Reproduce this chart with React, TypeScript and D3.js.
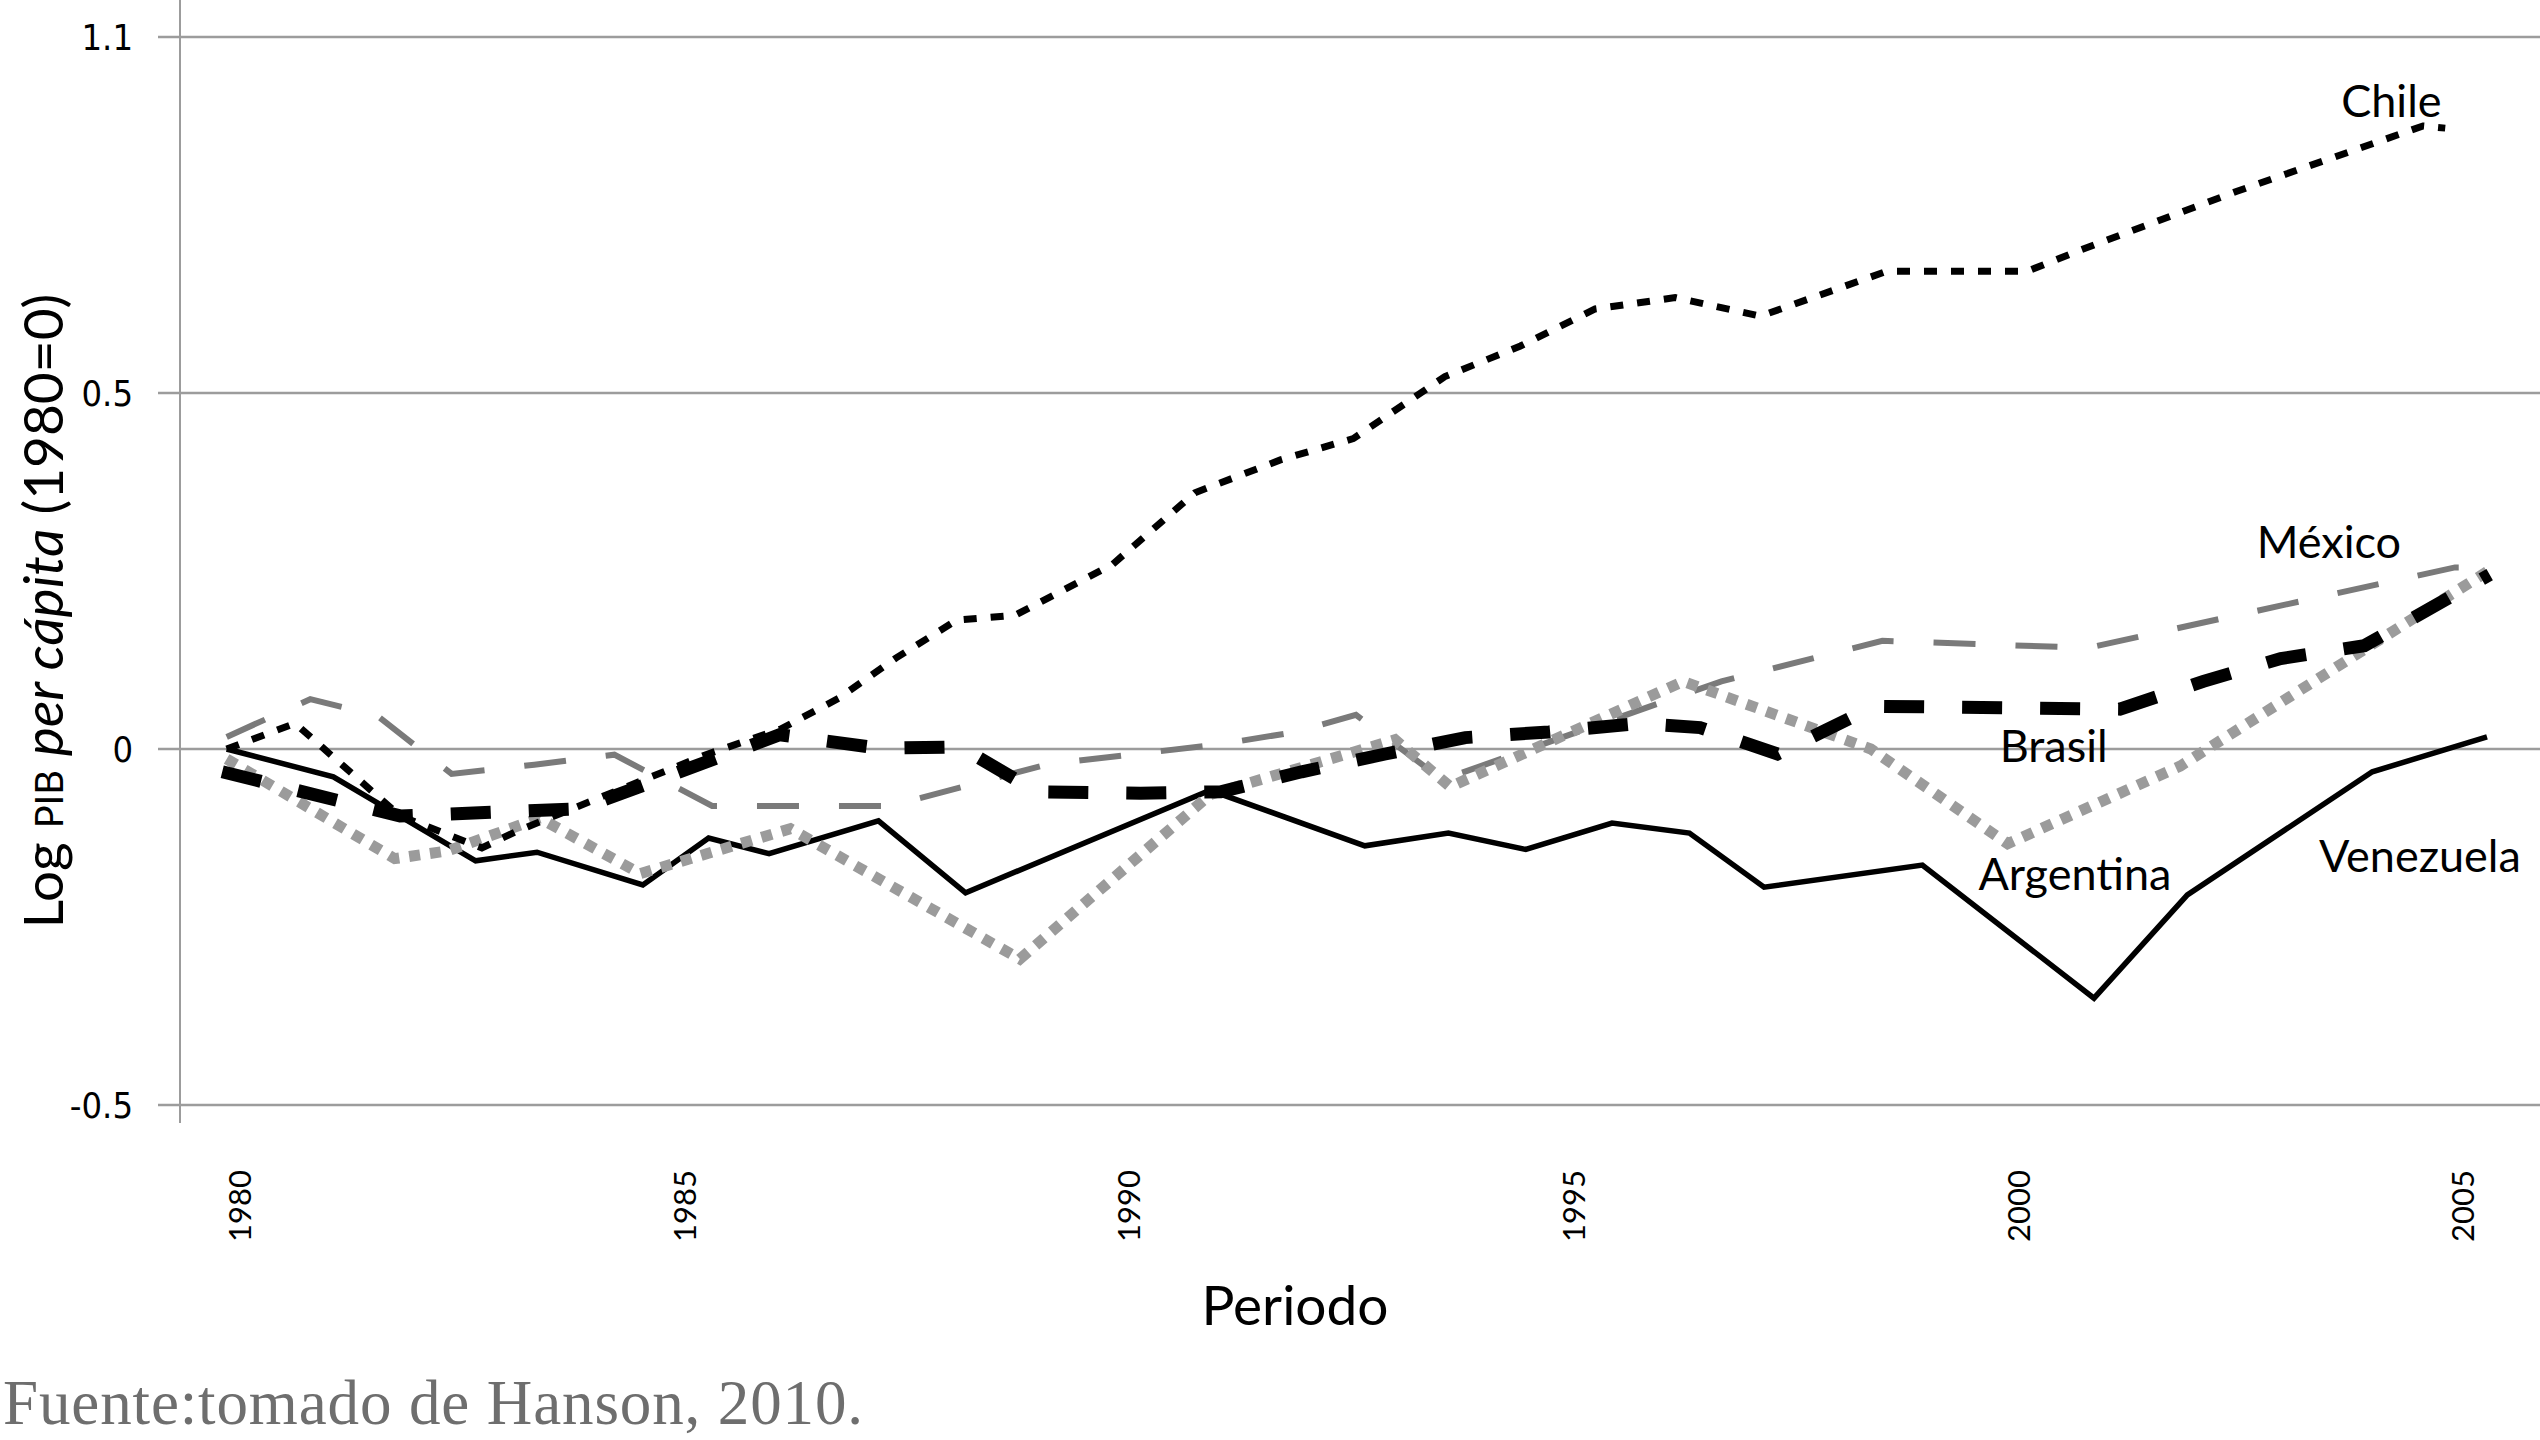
import React from "react";
import * as d3 from "d3";

// ---- data (decimal year, log GDP per capita, 1980 = 0) ----
const chile: [number, number][] = [
  [1979.85, 0], [1980.62, 0.036], [1981.8, -0.094], [1982.72, -0.139], [1983.12, -0.115],
  [1985.24, -0.008], [1986.08, 0.028], [1986.73, 0.071], [1987.38, 0.128], [1988.06, 0.181],
  [1988.72, 0.188], [1989.81, 0.259], [1990.74, 0.36], [1991.7, 0.406], [1992.52, 0.436],
  [1993.55, 0.523], [1994.4, 0.566], [1995.24, 0.618], [1996.14, 0.634], [1997.1, 0.608],
  [1998.52, 0.671], [2000.1, 0.671], [2000.64, 0.698], [2002.45, 0.783], [2004.55, 0.875],
  [2004.8, 0.872],
];
const mexico: [number, number][] = [
  [1979.85, 0.017], [1980.79, 0.07], [1981.18, 0.058], [1981.57, 0.044], [1982.38, -0.035],
  [1983.31, -0.022], [1984.21, -0.008], [1985.31, -0.08], [1987.31, -0.08], [1989.1, -0.021],
  [1990.98, 0.006], [1991.88, 0.024], [1992.55, 0.048], [1993.52, -0.043], [1996.66, 0.095],
  [1998.47, 0.152], [2000.78, 0.142], [2004.91, 0.255], [2005.37, 0.255],
];
const brasil: [number, number][] = [
  [1979.8, -0.032], [1981.8, -0.094], [1983.82, -0.084], [1986.07, 0.02], [1987.2, 0.001],
  [1988.1, 0.003], [1988.96, -0.06], [1990.13, -0.062], [1991.03, -0.06], [1991.94, -0.032],
  [1992.88, -0.007], [1993.78, 0.016], [1994.72, 0.024], [1995.75, 0.036], [1996.42, 0.03],
  [1997.29, -0.007], [1998.38, 0.06], [2001.14, 0.056], [2002.08, 0.095], [2002.95, 0.127],
  [2003.89, 0.145], [2005.3, 0.245],
];
const argentina: [number, number][] = [
  [1979.85, -0.014], [1981.74, -0.154], [1982.34, -0.143], [1983.37, -0.097], [1984.5, -0.175],
  [1986.19, -0.112], [1988.77, -0.295], [1990.91, -0.064], [1992.99, 0.013], [1993.61, -0.053],
  [1996.23, 0.095], [1998.34, 0.0], [1999.88, -0.133], [2001.82, -0.024], [2005.27, 0.249],
];
const venezuela: [number, number][] = [
  [1979.85, 0], [1981.05, -0.039], [1982.65, -0.157], [1983.34, -0.145], [1984.53, -0.191],
  [1985.27, -0.125], [1985.95, -0.147], [1987.18, -0.101], [1988.16, -0.202], [1990.91, -0.058],
  [1992.65, -0.136], [1993.59, -0.118], [1994.46, -0.141], [1995.43, -0.104], [1996.3, -0.118],
  [1997.14, -0.194], [1998.92, -0.163], [2000.85, -0.35], [2001.9, -0.205], [2003.98, -0.032],
  [2005.27, 0.017],
];

const xTicks = [1980, 1985, 1990, 1995, 2000, 2005];
const yTicks = [-0.5, 0, 0.5, 1.0];
const yTickLabels = ["-0.5", "0", "0.5", "1.1"];

type Series = {
  name: string;
  data: [number, number][];
  color: string;
  width: number;
  dash?: string;
  label: [number, number]; // label anchor in data coords
};

const W = 2540;
const H = 1440;

export default function App() {
  const x = d3.scaleLinear().domain([1980, 2005]).range([240, 2463]);
  const y = d3.scaleLinear().domain([-0.5, 1.0]).range([1105, 37]);
  const line = d3
    .line<[number, number]>()
    .x((d) => x(d[0]))
    .y((d) => y(d[1]));

  const series: Series[] = [
    { name: "Venezuela", data: venezuela, color: "#000", width: 5.5, label: [2003.38, -0.173] },
    { name: "México", data: mexico, color: "#7a7a7a", width: 6, dash: "42 40", label: [2002.68, 0.268] },
    { name: "Argentina", data: argentina, color: "#9b9b9b", width: 11, dash: "11 10", label: [1999.55, -0.198] },
    { name: "Brasil", data: brasil, color: "#000", width: 13, dash: "40 38", label: [1999.79, -0.018] },
    { name: "Chile", data: chile, color: "#000", width: 7, dash: "13 14", label: [2003.63, 0.888] },
  ];

  const labelFont = "Lato, 'Open Sans', sans-serif";

  return (
    <svg
      width={W}
      height={H}
      viewBox={`0 0 ${W} ${H}`}
      style={{ position: "absolute", left: 0, top: 0, background: "#fff" }}
    >
      <rect x={0} y={0} width={W} height={H} fill="#fff" />
      {/* gridlines */}
      {yTicks.map((t) => (
        <line key={t} x1={158} x2={W} y1={y(t)} y2={y(t)} stroke="#9c9c9c" strokeWidth={2.5} />
      ))}
      {/* y axis line */}
      <line x1={180} x2={180} y1={0} y2={1123} stroke="#9c9c9c" strokeWidth={2} />
      {/* y tick labels */}
      {yTicks.map((t, i) => (
        <text
          key={t}
          x={133}
          y={y(t)}
          dy="0.36em"
          textAnchor="end"
          fontSize={36}
          fontFamily="'Liberation Sans Narrow', 'DejaVu Sans Condensed', sans-serif"
          style={{ fontStretch: "condensed" }}
          fill="#000"
        >
          {yTickLabels[i]}
        </text>
      ))}
      {/* x tick labels */}
      {xTicks.map((t) => (
        <text
          key={t}
          transform={`translate(${x(t)},1170) rotate(-90)`}
          dy="0.36em"
          textAnchor="end"
          fontSize={31}
          fontFamily={labelFont}
          fill="#000"
        >
          {t}
        </text>
      ))}
      {/* series */}
      {series.map((s) => (
        <path
          key={s.name}
          d={line(s.data) || ""}
          fill="none"
          stroke={s.color}
          strokeWidth={s.width}
          strokeDasharray={s.dash}
          strokeLinejoin="miter"
          strokeLinecap="butt"
        />
      ))}
      {/* series labels */}
      {series.map((s) => (
        <text
          key={s.name + "-l"}
          x={x(s.label[0])}
          y={y(s.label[1])}
          fontSize={45}
          fontFamily={labelFont}
          fill="#000"
        >
          {s.name}
        </text>
      ))}
      {/* axis titles */}
      <text
        transform="translate(63,611) rotate(-90)"
        textAnchor="middle"
        fontSize={55}
        fontFamily={labelFont}
        fill="#000"
      >
        Log <tspan fontSize={38}>PIB</tspan> <tspan fontStyle="italic">per cápita</tspan> (1980=0)
      </text>
      <text x={1295} y={1325} textAnchor="middle" fontSize={55} fontFamily={labelFont} fill="#000">
        Periodo
      </text>
      <text
        x={3}
        y={1424}
        fontSize={63}
        textLength={860}
        lengthAdjust="spacing"
        fontFamily="'Liberation Serif', 'DejaVu Serif', serif"
        fill="#6e6e6e"
      >
        Fuente:tomado de Hanson, 2010.
      </text>
    </svg>
  );
}
